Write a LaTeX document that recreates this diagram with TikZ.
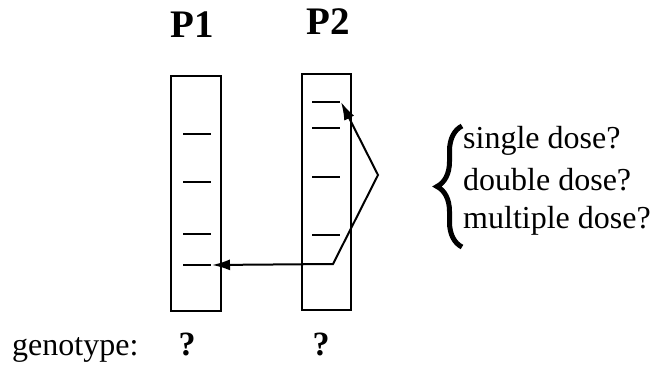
\documentclass[tikz,border=0pt]{standalone}
\usepackage{fontspec}
\setmainfont{Liberation Serif}
\usetikzlibrary{arrows.meta,decorations.pathreplacing}
\begin{document}
\begin{tikzpicture}[x=1pt,y=-1pt,
  chrom/.style={draw,line width=1.5pt,minimum width=50pt,minimum height=235pt,inner sep=0pt},
  tick/.style={line width=1.6pt},
  title/.style={font=\fontsize{39}{44}\selectfont\bfseries,inner sep=0pt},
  txt/.style={font=\fontsize{32}{38}\selectfont,inner sep=0pt,anchor=base west},
  qm/.style={font=\fontsize{34}{38}\selectfont\bfseries,inner sep=0pt,anchor=base},
  transfer/.style={line width=2pt,{Latex[length=18pt,width=11pt]}-{Latex[length=18pt,width=11pt]}}]
\useasboundingbox (0,0) rectangle (652,369);
\node[chrom] (p1box) at (196,193.5) {};
\node[chrom,minimum width=49pt,minimum height=236pt] (p2box) at (326.5,192) {};
\node[title] (p1) at (192,25) {P1};
\node[title] (p2) at (328,22) {P2};
% ticks on P1
\foreach \y [count=\i] in {134,182,234,265}{
  \coordinate (l\i a) at (183,\y); \coordinate (l\i b) at (211,\y);
  \draw[tick] (l\i a) -- (l\i b);}
% ticks on P2
\foreach \y [count=\i] in {102,128,177,235}{
  \coordinate (r\i a) at (312,\y); \coordinate (r\i b) at (340,\y);
  \draw[tick] (r\i a) -- (r\i b);}
\coordinate (src) at (341,102);
\coordinate (bend) at (378,175);
\coordinate (turn) at (333,264);
\coordinate (dst) at (212,265);
\draw[transfer] (src) -- (bend) -- (turn) -- (dst);
% brace and doses
\coordinate (bb) at (462,247);
\coordinate (bt) at (462,126);
\draw[line width=5pt,decorate,decoration={brace,amplitude=25pt,aspect=0.5}] (bb) -- (bt);
\node[txt] (d1) at (463,148) {single dose?};
\node[txt] (d2) at (463,190) {double dose?};
\node[txt] (d3) at (463,228) {multiple dose?};
% genotype
\node[txt] (gt) at (12,355) {genotype:};
\node[qm] (q1) at (187,355) {?};
\node[qm] (q2) at (321,355) {?};
\end{tikzpicture}
\end{document}
